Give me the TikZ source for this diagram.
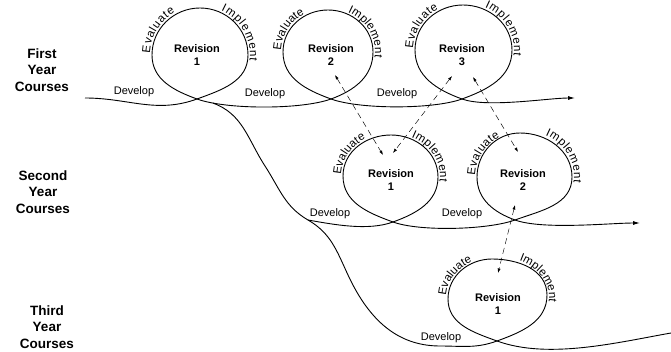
\documentclass[tikz,border=0pt]{standalone}
\usepackage{fontspec}
\setmainfont{Liberation Sans}
\usetikzlibrary{arrows.meta,decorations.text}

\newcommand{\arcfont}{\fontsize{11.5}{13}\selectfont}

\begin{document}
\begin{tikzpicture}[x=1pt, y=1pt,
    course/.style={font=\fontsize{13.5}{16.5}\selectfont\bfseries, align=center},
    revision/.style={font=\fontsize{11}{13.5}\selectfont\bfseries, align=center},
    develop/.style={font=\fontsize{11}{13}\selectfont},
    curve/.style={line width=0.9pt},
    headed/.style={curve, -{Latex[length=7pt,width=4pt]}},
    feedback/.style={dash pattern=on 6pt off 4pt, line width=0.45pt,
        {Latex[length=4.5pt,width=3pt]}-{Latex[length=4.5pt,width=3pt]}},
    arctext/.style={decorate, decoration={text along path, text align={fit to path}, text={#1}}}]
    \useasboundingbox (0,0) rectangle (671,351);

    % year labels
    \node[course] (year1) at (42,281) {First\\Year\\Courses};
    \node[course] (year2) at (43,159) {Second\\Year\\Courses};
    \node[course] (year3) at (47,24) {Third\\Year\\Courses};

    % crossing points and loop extremes
    \coordinate (start1) at (85,253);
    \coordinate (P11) at (197,252);
    \coordinate (R11) at (248,296);
    \coordinate (T11) at (200,343);
    \coordinate (L11) at (152,296);
    \coordinate (P12) at (331,252);
    \coordinate (R12) at (373,299);
    \coordinate (T12) at (328,341);
    \coordinate (L12) at (283,299);
    \coordinate (P13) at (462,252);
    \coordinate (R13) at (512,301);
    \coordinate (T13) at (463,346);
    \coordinate (L13) at (415,301);
    \coordinate (end1) at (575,253);

    \coordinate (S2) at (308,131);
    \coordinate (P21) at (393,129);
    \coordinate (R21) at (438,174);
    \coordinate (T21) at (391,216);
    \coordinate (L21) at (343,175);
    \coordinate (P22) at (515,131);
    \coordinate (R22) at (572,174);
    \coordinate (T22) at (520,218);
    \coordinate (L22) at (477,174);
    \coordinate (end2) at (640,128);

    \coordinate (M1) at (265,185);
    \coordinate (M2) at (348,76);
    \coordinate (D3) at (440,5);
    \coordinate (P31) at (497,10);
    \coordinate (R31) at (547,56);
    \coordinate (T31) at (492,92);
    \coordinate (L31) at (448,52);
    \coordinate (end3) at (671,18);

    % first year
    \draw[curve] (start1) to[out=0,in=200] (P11);
    \draw[curve] (P11) to[out=20,in=-90] (R11) to[out=90,in=0] (T11) to[out=180,in=90] (L11) to[out=-90,in=160] (P11);
    \draw[curve] (P11) to[out=-20,in=200,looseness=0.6] coordinate[pos=0.15] (B1) (P12);
    \draw[curve] (P12) to[out=20,in=-90] (R12) to[out=90,in=0] (T12) to[out=180,in=90] (L12) to[out=-90,in=160] (P12);
    \draw[curve] (P12) to[out=-20,in=200,looseness=0.6] (P13);
    \draw[curve] (P13) to[out=20,in=-90] (R13) to[out=90,in=0] (T13) to[out=180,in=90] (L13) to[out=-90,in=160] (P13);
    \draw[headed] (P13) to[out=-20,in=180,looseness=0.6] (end1);

    % down to second and third year
    \draw[curve] (B1) to[out=-20,in=123] (M1) to[out=-57,in=150] (S2) to[out=-30,in=115] (M2) to[out=-65,in=180] (D3) to[out=0,in=200] (P31);

    % second year
    \draw[curve] (S2) to[out=-10,in=200,looseness=0.8] (P21);
    \draw[curve] (P21) to[out=20,in=-90] (R21) to[out=90,in=0] (T21) to[out=180,in=90] (L21) to[out=-90,in=160] (P21);
    \draw[curve] (P21) to[out=-20,in=200,looseness=0.6] (P22);
    \draw[curve] (P22) to[out=20,in=-90] (R22) to[out=90,in=0] (T22) to[out=180,in=90] (L22) to[out=-90,in=160] (P22);
    \draw[headed] (P22) to[out=-20,in=180,looseness=0.6] (end2);

    % third year
    \draw[curve] (P31) to[out=20,in=-90] (R31) to[out=90,in=0] (T31) to[out=180,in=90] (L31) to[out=-90,in=160] (P31);
    \draw[curve] (P31) to[out=-20,in=190,looseness=0.8] (end3);

    % revisions
    \node[revision] (rev11) at (197,296) {Revision\\1};
    \node[revision] (rev12) at (331,296) {Revision\\2};
    \node[revision] (rev13) at (462,296) {Revision\\3};
    \node[revision] (rev21) at (391,171) {Revision\\1};
    \node[revision] (rev22) at (523,171) {Revision\\2};
    \node[revision] (rev31) at (498,47) {Revision\\1};

    % develop labels
    \node[develop] (dev11) at (134,259) {Develop};
    \node[develop] (dev12) at (265,257) {Develop};
    \node[develop] (dev13) at (397,257) {Develop};
    \node[develop] (dev21) at (330,137) {Develop};
    \node[develop] (dev22) at (462,137) {Develop};
    \node[develop] (dev31) at (441,13) {Develop};

    % evaluate / implement round each loop
    \coordinate (C11) at (200,296);
    \coordinate (C12) at (328,299);
    \coordinate (C13) at (463.5,301);
    \coordinate (C21) at (390.5,174.5);
    \coordinate (C22) at (524.5,174);
    \coordinate (C31) at (497.5,54);
    \path[arctext={|\arcfont|Evaluate}] ([shift={(178:50pt and 49pt)}]C11) arc[start angle=178, end angle=120, x radius=50pt, y radius=49pt];
    \path[arctext={|\arcfont|Implement}] ([shift={(65:50pt and 49pt)}]C11) arc[start angle=65, end angle=-7, x radius=50pt, y radius=49pt];
    \path[arctext={|\arcfont|Evaluate}] ([shift={(178:47pt and 44pt)}]C12) arc[start angle=178, end angle=120, x radius=47pt, y radius=44pt];
    \path[arctext={|\arcfont|Implement}] ([shift={(65:47pt and 44pt)}]C12) arc[start angle=65, end angle=-7, x radius=47pt, y radius=44pt];
    \path[arctext={|\arcfont|Evaluate}] ([shift={(178:50.5pt and 47pt)}]C13) arc[start angle=178, end angle=120, x radius=50.5pt, y radius=47pt];
    \path[arctext={|\arcfont|Implement}] ([shift={(65:50.5pt and 47pt)}]C13) arc[start angle=65, end angle=-7, x radius=50.5pt, y radius=47pt];
    \path[arctext={|\arcfont|Evaluate}] ([shift={(178:49.5pt and 43.5pt)}]C21) arc[start angle=178, end angle=120, x radius=49.5pt, y radius=43.5pt];
    \path[arctext={|\arcfont|Implement}] ([shift={(65:49.5pt and 43.5pt)}]C21) arc[start angle=65, end angle=-7, x radius=49.5pt, y radius=43.5pt];
    \path[arctext={|\arcfont|Evaluate}] ([shift={(178:49.5pt and 46pt)}]C22) arc[start angle=178, end angle=120, x radius=49.5pt, y radius=46pt];
    \path[arctext={|\arcfont|Implement}] ([shift={(65:49.5pt and 46pt)}]C22) arc[start angle=65, end angle=-7, x radius=49.5pt, y radius=46pt];
    \path[arctext={|\arcfont|Evaluate}] ([shift={(178:51.5pt and 40pt)}]C31) arc[start angle=178, end angle=120, x radius=51.5pt, y radius=40pt];
    \path[arctext={|\arcfont|Implement}] ([shift={(65:51.5pt and 40pt)}]C31) arc[start angle=65, end angle=-7, x radius=51.5pt, y radius=40pt];

    % feedback between revisions
    \coordinate (fb1a) at (335,276);
    \coordinate (fb1b) at (383,196);
    \coordinate (fb2a) at (452,275);
    \coordinate (fb2b) at (393,198);
    \coordinate (fb3a) at (473,274);
    \coordinate (fb3b) at (518,199);
    \coordinate (fb4a) at (515,146);
    \coordinate (fb4b) at (498,78);
    \draw[feedback] (fb1a) -- (fb1b);
    \draw[feedback] (fb2a) -- (fb2b);
    \draw[feedback] (fb3a) -- (fb3b);
    \draw[feedback] (fb4a) -- (fb4b);
\end{tikzpicture}
\end{document}
